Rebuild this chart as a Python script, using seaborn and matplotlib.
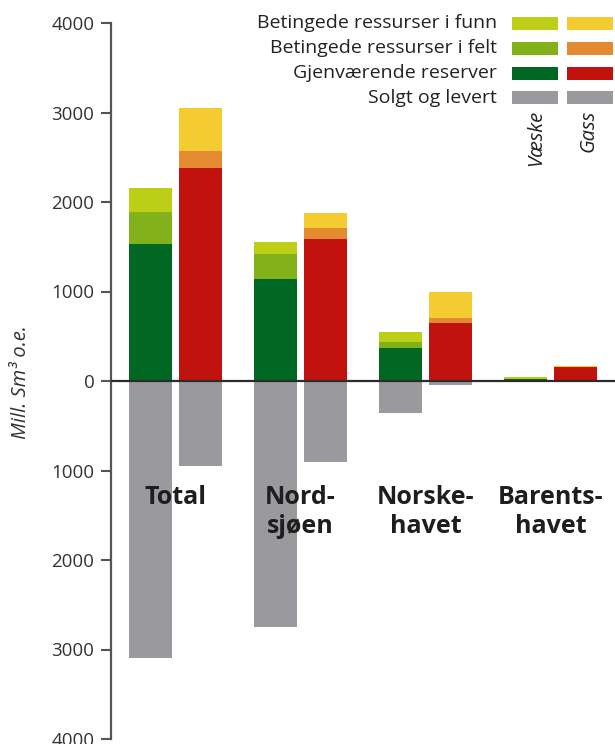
import numpy as np
import pandas as pd
import seaborn as sns
import matplotlib.pyplot as plt
from matplotlib.patches import Rectangle
from matplotlib.ticker import FuncFormatter

# data (Mill. Sm3 o.e.)
areas = ['Total', 'Nordsjøen', 'Norskehavet', 'Barentshavet']
area_labels = ['Total', 'Nord-\nsjøen', 'Norske-\nhavet', 'Barents-\nhavet']
kinds = ['Væske', 'Gass']

reserver_vaeske = [1535, 1135, 365, 25]
felt_vaeske = [350, 280, 75, 0]
funn_vaeske = [270, 140, 110, 20]
solgt_vaeske = [3100, 2745, 355, 0]

reserver_gass = [2385, 1585, 645, 160]
felt_gass = [180, 130, 55, 0]
funn_gass = [490, 160, 300, 12]
solgt_gass = [950, 905, 45, 0]

legend_labels = ['Betingede ressurser i funn', 'Betingede ressurser i felt',
                 'Gjenværende reserver', 'Solgt og levert']

colors = {
    'funn': {'Væske': '#bccf16', 'Gass': '#f4cb31'},
    'felt': {'Væske': '#83b11a', 'Gass': '#e48a30'},
    'reserver': {'Væske': '#006822', 'Gass': '#c1120e'},
    'solgt': {'Væske': '#9a999e', 'Gass': '#9a999e'},
}

rows = []
for i, a in enumerate(areas):
    for k, res, felt, funn, solgt in [
        ('Væske', reserver_vaeske[i], felt_vaeske[i], funn_vaeske[i], solgt_vaeske[i]),
        ('Gass', reserver_gass[i], felt_gass[i], funn_gass[i], solgt_gass[i]),
    ]:
        rows.append(dict(area=a, kind=k, layer='funn', value=res + felt + funn))
        rows.append(dict(area=a, kind=k, layer='felt', value=res + felt))
        rows.append(dict(area=a, kind=k, layer='reserver', value=res))
        rows.append(dict(area=a, kind=k, layer='solgt', value=-solgt))
df = pd.DataFrame(rows)

W, H = 615, 744
fig = plt.figure(figsize=(W / 100, H / 100), dpi=100)
plt.rcParams['font.family'] = ['Open Sans', 'DejaVu Sans']

ax = fig.add_axes([111 / W, 5 / H, (W - 111) / W, 716 / H])

# stacked bars: cumulative layers drawn from the top down
for layer in ['funn', 'felt', 'reserver', 'solgt']:
    sub = df[df.layer == layer]
    sns.barplot(data=sub, x='area', y='value', hue='kind', order=areas,
                hue_order=kinds, palette=colors[layer], width=0.8, gap=0.15,
                saturation=1, errorbar=None, linewidth=0, legend=False, ax=ax)

ax.axhline(0, color='#2b2b2b', lw=1.6, zorder=5)

ax.set_ylim(-4000, 4000)
ax.set_xlim(-0.516, 3.516)
ax.set_yticks(np.arange(-4000, 4001, 1000))
ax.yaxis.set_major_formatter(FuncFormatter(lambda v, p: f'{abs(int(v))}'))
ax.tick_params(axis='y', direction='out', length=7, width=1.5, pad=5,
               labelsize=13.5, colors='#555555', labelcolor='#333333')
ax.set_xticks([])
ax.set_xlabel('')
for s in ['top', 'right', 'bottom']:
    ax.spines[s].set_visible(False)
ax.spines['left'].set_color('#555555')
ax.spines['left'].set_linewidth(1.6)

ax.set_ylabel('Mill. Sm³ o.e.', fontsize=14.5, style='italic', color='#333333')
ax.yaxis.set_label_coords(-0.158, 0.498)

for i, lab in enumerate(area_labels):
    ax.text(i, -1160, lab, ha='center', va='top', fontsize=18,
            fontweight='bold', color='#1e1e1e', linespacing=1.2)

# legend, drawn in pixel positions of the figure
def fx(x):
    return x / W

def fy(y):
    return 1 - y / H

row_y = [23.5, 48.3, 73.1, 97.9]
legend_layers = ['funn', 'felt', 'reserver', 'solgt']
for y, lab, layer in zip(row_y, legend_labels, legend_layers):
    fig.text(fx(497), fy(y), lab, ha='right', va='center', fontsize=14,
             color='#222222')
    for x0, k in [(512, 'Væske'), (567, 'Gass')]:
        fig.patches.append(Rectangle((fx(x0), fy(y + 6.5)), 46 / W, 13 / H,
                                     transform=fig.transFigure,
                                     color=colors[layer][k], lw=0))
fig.text(fx(536), fy(110), 'Væske', rotation=90, ha='center', va='top',
         fontsize=14.5, style='italic', color='#222222')
fig.text(fx(589), fy(110), 'Gass', rotation=90, ha='center', va='top',
         fontsize=14.5, style='italic', color='#222222')

fig.savefig('out.png', dpi=100, facecolor='white')
